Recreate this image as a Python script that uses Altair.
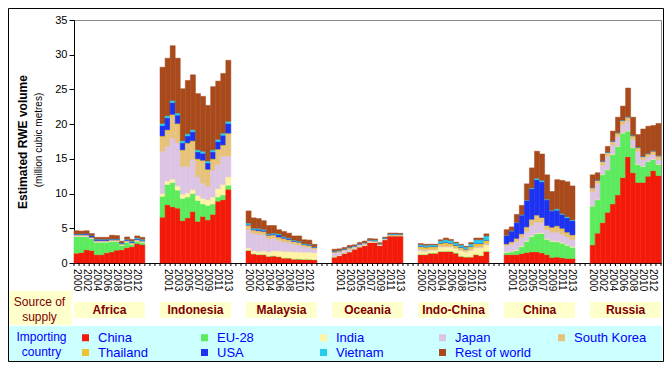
import altair as alt
import pandas as pd

regions = ["Africa", "Indonesia", "Malaysia", "Oceania", "Indo-China", "China", "Russia"]
years = list(range(2000, 2014))
series = ["China", "EU-28", "India", "Japan", "South Korea",
          "Thailand", "USA", "Vietnam", "Rest of world"]
colors = ["#F41A0A", "#5CEB5C", "#FFF3A6", "#DCC4E4", "#E6C27A",
          "#EEC232", "#1E32F2", "#26CDEB", "#A84A1C"]

africa = {
    "China":         [1.4, 1.5, 1.9, 1.8, 1.2, 1.2, 1.45, 1.6, 1.85, 1.9, 2.2, 2.35, 2.8, 2.65],
    "EU-28":         [2.4, 2.3, 1.9, 1.7, 1.8, 1.8, 1.55, 1.5, 1.25, 0.65, 0.8, 0.35, 0.35, 0.3],
    "India":         [0.05, 0.05, 0.05, 0.05, 0.05, 0.05, 0.05, 0.05, 0.05, 0.05, 0.05, 0.05, 0.05, 0.05],
    "Japan":         [0.15, 0.15, 0.15, 0.1, 0.1, 0.1, 0.1, 0.1, 0.1, 0.1, 0.1, 0.1, 0.1, 0.1],
    "South Korea":   [0.05, 0.05, 0.05, 0.05, 0.05, 0.05, 0.05, 0.05, 0.05, 0.05, 0.05, 0.05, 0.05, 0.05],
    "Thailand":      [0.02, 0.02, 0.02, 0.02, 0.02, 0.02, 0.02, 0.02, 0.02, 0.02, 0.02, 0.02, 0.02, 0.02],
    "USA":           [0.1, 0.1, 0.15, 0.2, 0.2, 0.2, 0.15, 0.1, 0.1, 0.1, 0.1, 0.1, 0.1, 0.1],
    "Vietnam":       [0.03, 0.03, 0.03, 0.03, 0.03, 0.03, 0.05, 0.05, 0.05, 0.05, 0.1, 0.15, 0.15, 0.15],
    "Rest of world": [0.45, 0.4, 0.4, 0.3, 0.25, 0.25, 0.28, 0.53, 0.48, 0.23, 0.33, 0.23, 0.28, 0.28],
}
indonesia = {
    "China":         [6.6, 8.4, 8.1, 7.9, 6.1, 6.5, 7.4, 6.0, 6.7, 6.2, 7.0, 8.9, 9.1, 10.6],
    "EU-28":         [3.0, 2.9, 3.5, 2.6, 3.2, 3.0, 2.6, 3.0, 1.8, 2.1, 1.5, 0.6, 0.7, 0.6],
    "India":         [0.4, 0.5, 0.5, 0.6, 0.6, 0.6, 0.6, 0.7, 0.8, 0.8, 1.0, 1.2, 1.5, 1.2],
    "Japan":         [6.1, 5.0, 5.9, 6.2, 4.0, 3.8, 4.3, 2.7, 2.2, 1.9, 3.9, 3.5, 4.1, 3.0],
    "South Korea":   [2.0, 2.2, 3.2, 2.6, 2.2, 3.2, 2.5, 2.4, 3.1, 2.3, 1.4, 2.0, 1.4, 3.1],
    "Thailand":      [0.2, 0.2, 0.2, 0.2, 0.2, 0.2, 0.2, 0.2, 0.2, 0.2, 0.2, 0.2, 0.2, 0.2],
    "USA":           [1.5, 1.7, 1.7, 1.2, 1.0, 1.0, 1.3, 1.0, 1.0, 0.9, 1.0, 1.1, 1.4, 1.4],
    "Vietnam":       [0.3, 0.3, 0.3, 0.3, 0.3, 0.3, 0.3, 0.3, 0.3, 0.3, 0.3, 0.3, 0.3, 0.3],
    "Rest of world": [8.1, 8.3, 7.9, 7.9, 7.5, 7.7, 7.9, 8.1, 7.9, 8.0, 9.1, 8.4, 8.6, 8.8],
}
malaysia = {
    "China":         [1.8, 1.3, 1.2, 1.2, 0.95, 1.0, 0.9, 0.7, 0.7, 0.55, 0.55, 0.5, 0.5, 0.45],
    "EU-28":         [0.05, 0.05, 0.05, 0.05, 0.05, 0.05, 0.05, 0.05, 0.05, 0.05, 0.05, 0.05, 0.05, 0.05],
    "India":         [0.3, 0.4, 0.4, 0.5, 0.6, 0.7, 0.8, 0.9, 0.9, 1.0, 1.0, 1.0, 1.0, 1.0],
    "Japan":         [2.7, 2.5, 2.5, 2.3, 1.9, 1.8, 1.5, 1.4, 1.3, 1.1, 1.0, 0.8, 0.7, 0.5],
    "South Korea":   [0.5, 0.4, 0.4, 0.4, 0.4, 0.4, 0.4, 0.4, 0.3, 0.3, 0.3, 0.2, 0.2, 0.15],
    "Thailand":      [0.1, 0.1, 0.1, 0.1, 0.1, 0.1, 0.1, 0.1, 0.1, 0.1, 0.1, 0.1, 0.1, 0.1],
    "USA":           [0.1, 0.1, 0.2, 0.15, 0.1, 0.1, 0.3, 0.15, 0.15, 0.1, 0.05, 0.05, 0.05, 0.05],
    "Vietnam":       [0.2, 0.15, 0.15, 0.15, 0.1, 0.15, 0.15, 0.1, 0.1, 0.1, 0.1, 0.1, 0.1, 0.05],
    "Rest of world": [1.75, 1.5, 1.4, 1.25, 1.2, 1.1, 0.6, 0.75, 0.7, 0.6, 0.75, 0.55, 0.6, 0.35],
}
oceania = {
    "China":         [0.85, 1.05, 1.4, 1.6, 2.0, 2.3, 2.5, 2.95, 2.95, 2.5, 3.35, 3.9, 3.9, 3.9],
    "EU-28":         [0.02, 0.02, 0.02, 0.02, 0.02, 0.02, 0.02, 0.02, 0.02, 0.02, 0.02, 0.02, 0.02, 0.02],
    "India":         [0.05, 0.05, 0.05, 0.05, 0.05, 0.05, 0.05, 0.05, 0.05, 0.05, 0.05, 0.05, 0.05, 0.05],
    "Japan":         [0.5, 0.45, 0.35, 0.35, 0.2, 0.2, 0.2, 0.15, 0.1, 0.1, 0.05, 0.05, 0.05, 0.05],
    "South Korea":   [0.15, 0.15, 0.1, 0.15, 0.1, 0.1, 0.1, 0.1, 0.05, 0.05, 0.05, 0.05, 0.05, 0.05],
    "Thailand":      [0.02, 0.02, 0.02, 0.02, 0.02, 0.02, 0.02, 0.02, 0.02, 0.02, 0.02, 0.02, 0.02, 0.02],
    "USA":           [0.1, 0.05, 0.05, 0.05, 0.03, 0.03, 0.03, 0.03, 0.03, 0.03, 0.03, 0.03, 0.03, 0.03],
    "Vietnam":       [0.05, 0.05, 0.05, 0.05, 0.05, 0.05, 0.05, 0.05, 0.1, 0.05, 0.05, 0.1, 0.1, 0.05],
    "Rest of world": [0.25, 0.2, 0.2, 0.25, 0.15, 0.2, 0.2, 0.15, 0.15, 0.1, 0.1, 0.1, 0.1, 0.1],
}
indochina = {
    "China":         [1.2, 1.2, 1.4, 1.4, 1.65, 1.65, 1.65, 1.4, 0.95, 0.85, 0.85, 1.2, 1.05, 1.65],
    "EU-28":         [0.05, 0.05, 0.05, 0.05, 0.05, 0.05, 0.05, 0.1, 0.05, 0.05, 0.05, 0.05, 0.05, 0.05],
    "India":         [0.5, 0.4, 0.4, 0.4, 0.6, 0.6, 0.6, 0.6, 0.8, 0.7, 0.9, 0.9, 1.1, 0.9],
    "Japan":         [0.2, 0.2, 0.1, 0.1, 0.1, 0.1, 0.1, 0.1, 0.1, 0.1, 0.1, 0.1, 0.1, 0.1],
    "South Korea":   [0.15, 0.15, 0.1, 0.1, 0.15, 0.2, 0.15, 0.1, 0.1, 0.1, 0.15, 0.2, 0.2, 0.2],
    "Thailand":      [0.3, 0.3, 0.3, 0.3, 0.3, 0.35, 0.3, 0.25, 0.25, 0.2, 0.3, 0.35, 0.3, 0.35],
    "USA":           [0.05, 0.05, 0.05, 0.05, 0.05, 0.05, 0.05, 0.05, 0.05, 0.05, 0.05, 0.05, 0.05, 0.05],
    "Vietnam":       [0.2, 0.2, 0.2, 0.2, 0.3, 0.35, 0.35, 0.3, 0.3, 0.25, 0.35, 0.5, 0.5, 0.6],
    "Rest of world": [0.15, 0.15, 0.1, 0.1, 0.15, 0.25, 0.15, 0.1, 0.1, 0.1, 0.2, 0.25, 0.25, 0.3],
}
china = {
    "China":         [1.2, 1.2, 1.2, 1.35, 1.5, 1.6, 1.6, 1.45, 1.2, 0.8, 0.85, 0.75, 0.65, 0.65],
    "EU-28":         [0.3, 0.4, 0.6, 1.0, 1.6, 2.2, 2.6, 2.8, 2.2, 2.3, 2.2, 2.1, 1.9, 1.6],
    "India":         [0.1, 0.1, 0.1, 0.1, 0.1, 0.1, 0.1, 0.1, 0.1, 0.1, 0.1, 0.1, 0.1, 0.1],
    "Japan":         [0.9, 1.0, 1.2, 1.2, 1.3, 1.5, 1.6, 1.5, 1.3, 1.2, 1.3, 1.2, 1.1, 1.0],
    "South Korea":   [0.2, 0.3, 0.4, 0.5, 0.6, 0.8, 0.9, 0.6, 0.5, 0.6, 0.7, 0.6, 0.5, 0.5],
    "Thailand":      [0.05, 0.05, 0.05, 0.05, 0.1, 0.1, 0.1, 0.1, 0.1, 0.15, 0.2, 0.25, 0.2, 0.2],
    "USA":           [1.2, 1.55, 2.25, 2.7, 3.8, 4.4, 5.1, 5.15, 3.7, 2.35, 2.25, 2.0, 2.05, 2.05],
    "Vietnam":       [0.05, 0.05, 0.05, 0.05, 0.05, 0.1, 0.2, 0.2, 0.1, 0.1, 0.2, 0.1, 0.15, 0.1],
    "Rest of world": [0.8, 0.55, 1.15, 1.35, 2.35, 2.9, 3.9, 3.8, 3.5, 2.7, 4.2, 4.8, 5.05, 4.9],
}
russia = {
    "China":         [2.6, 4.3, 5.8, 7.3, 8.5, 9.8, 12.3, 15.3, 13.0, 11.6, 11.6, 12.5, 13.3, 12.6],
    "EU-28":         [5.6, 4.8, 6.9, 6.1, 7.1, 7.0, 6.4, 3.7, 3.6, 2.6, 2.3, 2.1, 1.6, 1.6],
    "India":         [0.05, 0.05, 0.05, 0.05, 0.05, 0.05, 0.05, 0.05, 0.05, 0.05, 0.05, 0.05, 0.05, 0.05],
    "Japan":         [2.05, 2.35, 1.35, 1.95, 1.35, 1.35, 1.15, 1.35, 1.15, 1.85, 0.95, 0.65, 0.65, 0.65],
    "South Korea":   [0.5, 0.4, 0.5, 0.5, 0.5, 0.5, 0.6, 0.6, 0.5, 0.5, 0.4, 0.4, 0.5, 0.5],
    "Thailand":      [0.02, 0.02, 0.02, 0.02, 0.02, 0.02, 0.02, 0.02, 0.02, 0.02, 0.02, 0.02, 0.02, 0.02],
    "USA":           [0.05, 0.05, 0.05, 0.05, 0.05, 0.05, 0.05, 0.05, 0.05, 0.05, 0.05, 0.05, 0.05, 0.05],
    "Vietnam":       [0.03, 0.03, 0.03, 0.03, 0.03, 0.03, 0.03, 0.03, 0.03, 0.03, 0.03, 0.03, 0.03, 0.03],
    "Rest of world": [1.8, 1.0, 1.0, 0.8, 1.4, 2.2, 2.0, 4.1, 2.6, 1.8, 3.9, 3.9, 3.6, 4.6],
}
region_data = [africa, indonesia, malaysia, oceania, indochina, china, russia]

GAP = 3
STEP = len(years) + GAP
N_POS = len(regions) * STEP - GAP

rows = []
for g, (reg, d) in enumerate(zip(regions, region_data)):
    for k, yr in enumerate(years):
        p = g * STEP + k
        for o, s in enumerate(series):
            rows.append({"pos": p, "pos2": p + 1, "region": reg, "year": yr,
                         "series": s, "order": o, "value": d[s][k]})
df = pd.DataFrame(rows)

# year labels: every other category, centred under its bar
lab_rows = []
for g in range(len(regions)):
    for k, yr in enumerate(years):
        p = g * STEP + k
        if p % 2 == 0:
            lab_rows.append({"xc": p + 0.5, "label": str(yr)})
lab_df = pd.DataFrame(lab_rows)

ticks_df = pd.DataFrame({"b": list(range(N_POS + 1))})

reg_df = pd.DataFrame({
    "region": regions,
    "start": [g * STEP for g in range(len(regions))],
    "end": [g * STEP + len(years) for g in range(len(regions))],
    "center": [g * STEP + len(years) / 2 for g in range(len(regions))],
})

FONT = "Liberation Sans"
W, H = 587, 243
xscale = alt.Scale(domain=[0, N_POS], nice=False, zero=False)
cscale = alt.Scale(domain=series, range=colors)

bars = alt.Chart(df).transform_stack(
    stack="value", groupby=["pos"], as_=["y0", "y1"],
    sort=[alt.SortField("order", order="ascending")]
).mark_bar(strokeWidth=0.5).encode(
    x=alt.X("pos:Q", scale=xscale, axis=alt.Axis(
        labels=False, ticks=False, domainColor="#000000", grid=False, title=None)),
    x2="pos2:Q",
    y=alt.Y("y0:Q", scale=alt.Scale(domain=[0, 35], nice=False), axis=alt.Axis(
        values=list(range(0, 36, 5)), tickSize=5, labelFontSize=11, labelPadding=2,
        labelColor="#000000", tickColor="#000000", domainColor="#000000",
        grid=False, title=None)),
    y2="y1:Q",
    color=alt.Color("series:N", scale=cscale, legend=alt.Legend(
        title=None, orient="none", legendX=5, legendY=311, direction="horizontal",
        columns=5, gridAlign="all", columnPadding=24, rowPadding=1, padding=0,
        symbolType="square", symbolSize=49, symbolStrokeWidth=0, labelOffset=6,
        labelFontSize=13, labelColor="#0000FF", labelFont=FONT, labelLimit=200)),
    stroke=alt.Stroke("series:N", scale=cscale, legend=None),
)

xticks = alt.Chart(ticks_df).mark_rule(color="#000000", strokeWidth=1).encode(
    x="b:Q", y=alt.value(H), y2=alt.value(H + 3))
xlabels = alt.Chart(lab_df).mark_text(
    font=FONT, fontSize=10, color="#000000", angle=90, align="left", baseline="middle"
).encode(x="xc:Q", y=alt.value(H + 6), text="label:N")

# background boxes
cyan_box = alt.Chart(pd.DataFrame({"a": [0]})).mark_rect(fill="#CCFFFF").encode(
    x=alt.value(-67), x2=alt.value(W + 1), y=alt.value(306), y2=alt.value(341))
sos_box = alt.Chart(pd.DataFrame({"a": [0]})).mark_rect(fill="#FFFFCC").encode(
    x=alt.value(-67), x2=alt.value(-2.5), y=alt.value(271), y2=alt.value(305))
reg_boxes = alt.Chart(reg_df).mark_rect(fill="#FFFFCC").encode(
    x="start:Q", x2="end:Q", y=alt.value(282), y2=alt.value(298))
reg_text = alt.Chart(reg_df).mark_text(
    font=FONT, fontSize=12, fontWeight="bold", color="#800000", baseline="middle"
).encode(x="center:Q", y=alt.value(290), text="region:N")

sos_text = alt.Chart(pd.DataFrame({"t": ["Source of\nsupply"]})).mark_text(
    font=FONT, fontSize=12, color="#800000", lineBreak="\n", lineHeight=15,
    baseline="middle"
).encode(x=alt.value(-34.5), y=alt.value(282), text="t:N")
imp_text = alt.Chart(pd.DataFrame({"t": ["Importing\ncountry"]})).mark_text(
    font=FONT, fontSize=12, color="#0000FF", lineBreak="\n", lineHeight=15,
    baseline="middle"
).encode(x=alt.value(-32.5), y=alt.value(317), text="t:N")

ytitle = alt.Chart(pd.DataFrame({"t": ["Estimated RWE volume"]})).mark_text(
    font=FONT, fontSize=12, fontWeight="bold", color="#000000", angle=270,
    baseline="middle"
).encode(x=alt.value(-51.5), y=alt.value(122), text="t:N")
ysub = alt.Chart(pd.DataFrame({"t": ["(million cubic metres)"]})).mark_text(
    font=FONT, fontSize=10, color="#000000", angle=270, baseline="middle"
).encode(x=alt.value(-35.5), y=alt.value(120), text="t:N")

frame = alt.Chart(pd.DataFrame({"a": [0]})).mark_rect(
    fill=None, stroke="#000000", strokeWidth=1
).encode(x=alt.value(-65.5), x2=alt.value(W + 2.5), y=alt.value(-11.5), y2=alt.value(341.5))

chart = alt.layer(
    bars, xticks, xlabels, cyan_box, sos_box, reg_boxes, reg_text, sos_text, imp_text,
    ytitle, ysub, frame
).properties(
    width=W, height=H,
    padding={"left": 66, "top": 12, "right": 3, "bottom": 99},
    autosize=alt.AutoSizeParams(type="none"),
).configure(font=FONT).configure_view(stroke="#888888", strokeWidth=1)

chart.save("out.html", embed_options={"renderer": "svg", "actions": False})
